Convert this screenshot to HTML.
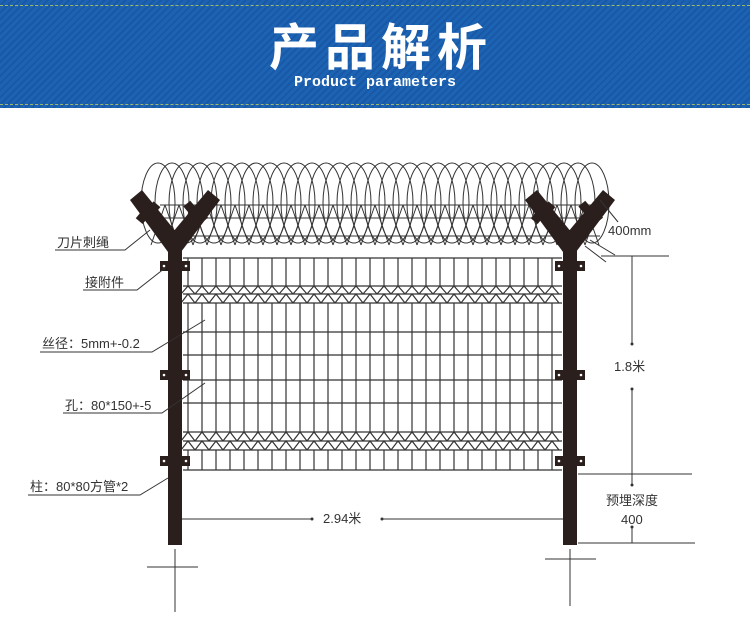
<!DOCTYPE html>
<html><head><meta charset="utf-8"><style>
html,body{margin:0;padding:0;background:#fff;}
body{width:750px;height:632px;overflow:hidden;position:relative;font-family:"Liberation Sans","Noto Sans CJK SC",sans-serif;}
.hdr{position:absolute;left:0;top:0;width:750px;height:108px;background:repeating-linear-gradient(135deg,#1d63b3 0 3px,#1858a6 3px 5px);}
.dot{position:absolute;left:0;width:750px;border-top:1px dashed #9fb86a;}
.t1{position:absolute;top:14px;left:6px;width:750px;text-align:center;color:#fff;font:bold 50px "Noto Sans CJK SC",sans-serif;letter-spacing:6px;line-height:60px;}
.t2{position:absolute;top:74px;width:750px;text-align:center;color:#fff;font:bold 15px "Liberation Mono",monospace;}
svg{position:absolute;left:0;top:0;}
svg text{font-family:"Liberation Sans","Noto Sans CJK SC",sans-serif;font-size:13px;fill:#333;}
</style></head><body>
<div class="hdr"></div>
<div class="dot" style="top:5px"></div>
<div class="dot" style="top:104px"></div>
<div class="t1">产品解析</div>
<div class="t2">Product parameters</div>
<svg id="s" width="750" height="632" viewBox="0 0 750 632">
<g id="wire" fill="none" stroke="#333" stroke-width="1"></g>
<g id="mesh" fill="none" stroke="#333" stroke-width="1.2"></g>
<g fill="#2a1f1c">
<rect x="168" y="240" width="14" height="305"/>
<polygon points="130,200 142,190 181,238 181,252 168,252"/>
<polygon points="220,200 208,190 168,238 168,252 181,252"/>
<rect x="563" y="240" width="14" height="305"/>
<polygon points="525,200 537,190 576,238 576,252 563,252"/>
<polygon points="615,200 603,190 563,238 563,252 576,252"/>
<rect x="160" y="261" width="30" height="10"/><rect x="160" y="370" width="30" height="10"/><rect x="160" y="456" width="30" height="10"/>
<rect x="555" y="261" width="30" height="10"/><rect x="555" y="370" width="30" height="10"/><rect x="555" y="456" width="30" height="10"/>
<rect x="138" y="213" width="9" height="9" transform="rotate(40 142 217)"/><rect x="150" y="203" width="9" height="9" transform="rotate(40 154 207)"/>
<rect x="185" y="203" width="9" height="9" transform="rotate(-40 189 207)"/><rect x="197" y="213" width="9" height="9" transform="rotate(-40 201 217)"/>
<rect x="533" y="213" width="9" height="9" transform="rotate(40 537 217)"/><rect x="545" y="203" width="9" height="9" transform="rotate(40 549 207)"/>
<rect x="580" y="203" width="9" height="9" transform="rotate(-40 584 207)"/><rect x="592" y="213" width="9" height="9" transform="rotate(-40 596 217)"/>
</g>
<g fill="#fff"><circle cx="164" cy="266" r="1.3"/><circle cx="186" cy="266" r="1.3"/><circle cx="164" cy="375" r="1.3"/><circle cx="186" cy="375" r="1.3"/><circle cx="164" cy="461" r="1.3"/><circle cx="186" cy="461" r="1.3"/>
<circle cx="559" cy="266" r="1.3"/><circle cx="581" cy="266" r="1.3"/><circle cx="559" cy="375" r="1.3"/><circle cx="581" cy="375" r="1.3"/><circle cx="559" cy="461" r="1.3"/><circle cx="581" cy="461" r="1.3"/></g>
<g stroke="#333" stroke-width="1" fill="none">
<path d="M55,250H125L150,230"/>
<path d="M83,290H137L165,268"/>
<path d="M40,352H152L205,320"/>
<path d="M63,413H162L205,383"/>
<path d="M28,495H140L168,478"/>
<path d="M147,567H198M175,549V612"/>
<path d="M545,559H596M570,549V606"/>
<path d="M182,519H312M382,519H563"/>
<path d="M601,256H669M632,256V343M632,389V485M578,474H692M578,543H695M632,527V543"/>
<path d="M600,200L618,222M585,246L606,262M590,240L615,255"/>
</g>
<g fill="#333"><circle cx="312" cy="519" r="1.5"/><circle cx="382" cy="519" r="1.5"/><circle cx="632" cy="344" r="1.5"/><circle cx="632" cy="389" r="1.5"/><circle cx="632" cy="485" r="1.5"/><circle cx="632" cy="527" r="1.5"/></g>
<text x="57" y="247">刀片刺绳</text>
<text x="85" y="287">接附件</text>
<text x="42" y="348">丝径：5mm+-0.2</text>
<text x="65" y="410">孔：80*150+-5</text>
<text x="30" y="491">柱：80*80方管*2</text>
<text x="323" y="523">2.94米</text>
<text x="608" y="235">400mm</text>
<text x="614" y="371">1.8米</text>
<text x="606" y="505">预埋深度</text>
<text x="621" y="524">400</text>
</svg>
<script>
var NS="http://www.w3.org/2000/svg";
function el(g,t,a){var e=document.createElementNS(NS,t);for(var k in a)e.setAttribute(k,a[k]);g.appendChild(e);}
var w=document.getElementById("wire");
for(var x=158;x<=598;x+=14){el(w,"ellipse",{cx:x,cy:203,rx:17,ry:40});
 el(w,"path",{d:"M"+(x-7)+",205L"+(x+7)+",245M"+(x+7)+",205L"+(x-7)+",245"});}
el(w,"path",{d:"M160,205H600M160,218H600M160,236H600"});
var m=document.getElementById("mesh");
var d="";
for(var x=188;x<=556;x+=14){d+="M"+x+",258V286M"+x+",303V432M"+x+",450V470";
 d+="M"+(x-7)+",294L"+x+",286L"+(x+7)+",294M"+(x-7)+",303L"+x+",294L"+(x+7)+",303";
 d+="M"+(x-7)+",441L"+x+",432L"+(x+7)+",441M"+(x-7)+",450L"+x+",441L"+(x+7)+",450";}
[258,286,294,303,332,355,380,403,432,441,450,470].forEach(function(y){d+="M183,"+y+"H562";});
el(m,"path",{d:d});
</script>
</body></html>
